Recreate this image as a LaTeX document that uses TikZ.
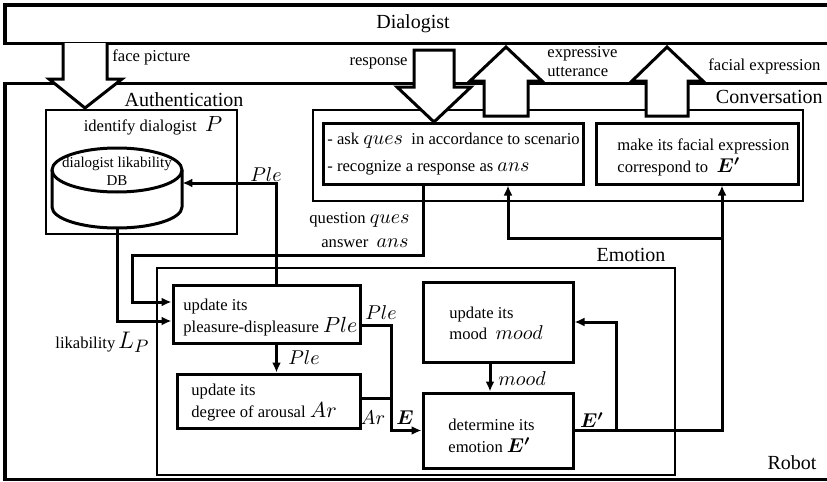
\documentclass[tikz,border=0pt]{standalone}
\usepackage{amsmath}
\usepackage{bm}
\usepackage{fontspec}
\setmainfont{Liberation Serif}
\usetikzlibrary{arrows.meta,fit}
% math symbols set a little larger than the surrounding text
\newcommand{\mv}[1]{{\fontsize{10}{12}\selectfont$#1$}}
\newcommand{\mvb}[1]{{\fontsize{11}{12}\selectfont$#1$}}
\begin{document}
\begin{tikzpicture}[x=0.5pt,y=-0.5pt,
  thickbox/.style={draw, line width=1.5pt, inner sep=0pt},
  thinbox/.style={draw, line width=0.7pt, inner sep=0pt},
  link/.style={line width=1.5pt, -{Latex[length=5pt,width=4.5pt]}},
  wire/.style={line width=1.5pt},
  blockarrow/.style={draw, fill=white, line width=1.5pt, line join=miter},
  txt/.style={font=\fontsize{8.3}{9.5}\selectfont, inner sep=0pt},
  small/.style={font=\fontsize{7.5}{9}\selectfont, inner sep=0pt},
  big/.style={font=\fontsize{10}{12}\selectfont, inner sep=0pt}]
\useasboundingbox (0,0) rectangle (827,482);
\clip (0,0) rectangle (827,482);

% outer frames
\node[thickbox, fit={(5,5) (860,43)}] (dlg) {};
\node[big] (dlgtxt) at (413,24) {Dialogist};
\node[thickbox, fit={(5,83) (860,479)}] (robot) {};
\node[big] (robottxt) at (792,463) {Robot};

% module frames
\node[thinbox, fit={(46,110) (237,234)}] (auth) {};
\node[big] (authtxt) at (184,100) {Authentication};
\node[thinbox, fit={(313,110) (803,201)}] (conv) {};
\node[big, anchor=east] (convtxt) at (823,97) {Conversation};
\node[thinbox, fit={(157,268) (675,475)}] (emo) {};
\node[big] (emotxt) at (631,255) {Emotion};

% block arrows between dialogist and robot
\draw[blockarrow] (63,43) -- (63,79) -- (49,79) -- (85,108) -- (122,79) -- (107,79) -- (107,43);
\draw[blockarrow] (414,50) -- (454,50) -- (454,87) -- (471,87) -- (434,122) -- (397,87) -- (414,87) -- cycle;
\draw[blockarrow] (484,116) -- (484,81) -- (470,81) -- (506,47) -- (542,81) -- (528,81) -- (528,116) -- cycle;
\draw[blockarrow] (646,116) -- (646,81) -- (632,81) -- (667,47) -- (703,81) -- (688,81) -- (688,116) -- cycle;
\node[txt, anchor=west] (facepic) at (112,57) {face picture};
\node[txt, anchor=east] (resp) at (408,63) {response};
\node[txt, anchor=west, align=left] (exutt) at (547,62) {expressive\\utterance};
\node[txt, anchor=west] (facexp) at (708,66) {facial expression};

% authentication: likability database
\node[txt] (ident) at (153,126) {identify dialogist \ \mvb{P}};
\draw[line width=1.5pt, fill=white] (52,170) -- (52,207)
  arc[start angle=180, end angle=360, x radius=32.5pt, y radius=10.5pt] -- (182,170);
\draw[line width=1.5pt] (117,170) ellipse [x radius=32.5pt, y radius=11pt];
\node[fit={(52,148) (182,228)}, inner sep=0pt] (db) {};
\node[small, align=center] (dbtxt) at (117,171) {dialogist likability\\DB};

% conversation boxes
\node[thickbox, fit={(323,123) (583,184)}] (ask) {};
\node[txt, anchor=west] (ask1) at (327,141) {- ask \mv{ques} \ in accordance to scenario};
\node[txt, anchor=west] (ask2) at (327,168) {- recognize a response as \mv{ans}};
\node[thickbox, fit={(596,123) (798,184)}] (face) {};
\node[txt, anchor=west] (face1) at (617,146) {make its facial expression};
\node[txt, anchor=west] (face2) at (617,167) {correspond to \ \mv{\bm{E'}}};

% emotion boxes
\node[thickbox, fit={(173,285) (360,343)}] (ple) {};
\node[txt, anchor=west] (ple1) at (183,307) {update its};
\node[txt, anchor=west] (ple2) at (183,327) {pleasure-displeasure \mvb{Ple}};
\node[thickbox, fit={(177,374) (360,428)}] (aro) {};
\node[txt, anchor=west] (aro1) at (191,392) {update its};
\node[txt, anchor=west] (aro2) at (191,412) {degree of arousal \mvb{Ar}};
\node[thickbox, fit={(423,282) (573,362)}] (mood) {};
\node[txt, anchor=west] (mood1) at (449,315) {update its};
\node[txt, anchor=west] (mood2) at (449,333) {mood \ \mv{mood}};
\node[thickbox, fit={(423,393) (573,468)}] (det) {};
\node[txt, anchor=west] (det1) at (448,425) {determine its};
\node[txt, anchor=west] (det2) at (448,445) {emotion \mv{\bm{E'}}};

% connectors
\coordinate (qa) at (132,255);
\coordinate (epos) at (391,430.5);
\coordinate (eout) at (722,238);
\coordinate (fb) at (616,430.5);
\draw[link] (db.south) |- ([yshift=-3.5pt]ple.west);
\draw[link] ([xshift=-15pt]ask.south) |- (qa) |- ([yshift=6pt]ple.west);
\draw[link] ([xshift=5pt]ple.north) |- ([yshift=2.5pt]db.east);
\draw[link] ([xshift=5pt]ple.south) -- ([xshift=5pt]ple.south |- aro.north);
\draw[link] ([yshift=-5.5pt]ple.east) -| (epos) -- (det.west);
\draw[wire] ([yshift=1.5pt]aro.east) -| (epos);
\draw[link] ([xshift=-4pt]mood.south) -- ([xshift=-4pt]det.north);
\draw[link] (det.east) -| ([xshift=12.5pt]face.south);
\draw[link] (eout) -| ([xshift=27.5pt]ask.south);
\draw[link] (fb) |- (mood.east);

% connector labels
\node[big] (lple1) at (266,175) {$Ple$};
\node[txt, anchor=east] (lques) at (410,220) {question \mv{ques}};
\node[txt, anchor=east] (lans) at (409,243) {answer \ \mv{ans}};
\node[txt, anchor=west] (llp) at (55,342) {likability\,{\fontsize{12.5}{14}\selectfont$L_P$}};
\node[big] (lple2) at (381,313) {$Ple$};
\node[big, anchor=west] (lple3) at (288,358) {$Ple$};
\node[big] (lar) at (373,418) {$Ar$};
\node[big] (le) at (405,418) {$\bm{E}$};
\node[big, anchor=west] (lmood) at (498,379) {$mood$};
\node[big] (lep) at (592,420) {$\bm{E'}$};
\end{tikzpicture}
\end{document}
